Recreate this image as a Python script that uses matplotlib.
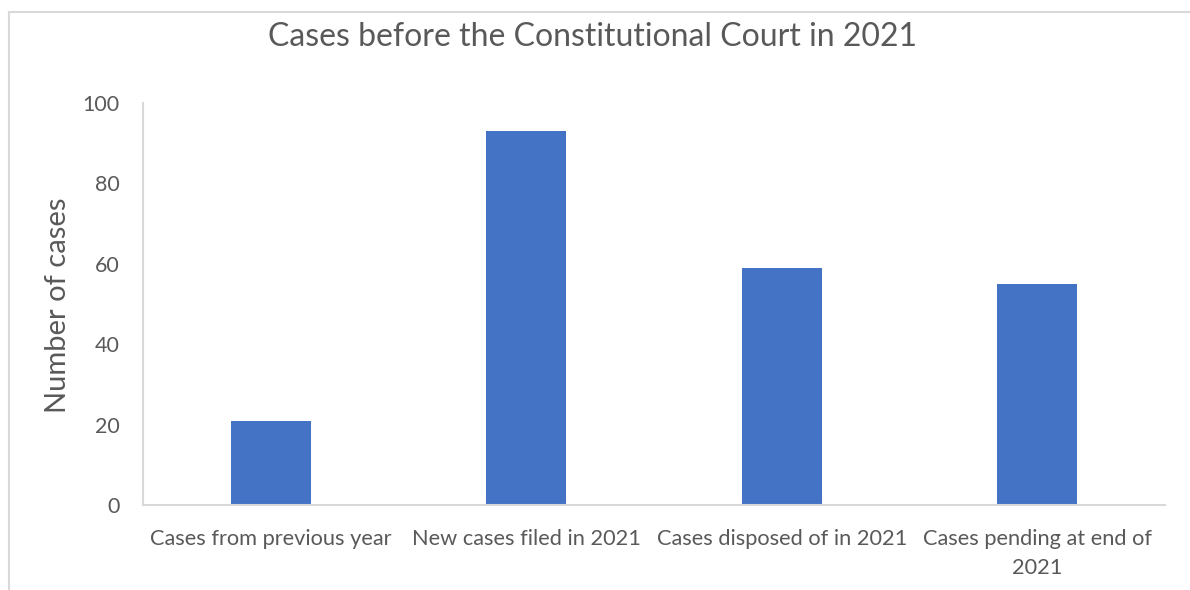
import matplotlib
matplotlib.use("Agg")
import matplotlib.pyplot as plt
from matplotlib.lines import Line2D

categories = [
    "Cases from previous year",
    "New cases filed in 2021",
    "Cases disposed of in 2021",
    "Cases pending at end of\n2021",
]
case_counts = [21, 93, 59, 55]
y_ticks = [0, 20, 40, 60, 80, 100]

TEXT = "#595959"
BAR = "#4472C4"
AXIS = "#D9D9D9"

plt.rcParams["font.family"] = ["Lato", "DejaVu Sans"]

fig = plt.figure(figsize=(11.9, 5.9), dpi=100)
ax = fig.add_axes([143 / 1190, 1 - 505 / 590, 1022 / 1190, 402 / 590])

x = list(range(len(categories)))
ax.bar(x, case_counts, width=0.313, color=BAR, zorder=2)

ax.set_xlim(-0.5, len(categories) - 0.5)
ax.set_ylim(0, 100)
ax.set_yticks(y_ticks)
ax.set_xticks(x)
ax.set_xticklabels(categories, linespacing=1.6)

ax.tick_params(axis="y", length=0, pad=17, labelsize=15.5, labelcolor=TEXT)
ax.tick_params(axis="x", length=0, pad=17, labelsize=15.7, labelcolor=TEXT)

for side in ("top", "right"):
    ax.spines[side].set_visible(False)
for side in ("left", "bottom"):
    ax.spines[side].set_color(AXIS)
    ax.spines[side].set_linewidth(1.5)

fig.text(58 / 1190, 1 - 305 / 590, "Number of cases", rotation=90,
         ha="center", va="center", fontsize=21, color=TEXT)
fig.text(592 / 1190, 1 - 37 / 590, "Cases before the Constitutional Court in 2021",
         ha="center", va="center", fontsize=23, color=TEXT)

# Chart-area frame (left and top edges)
fig.add_artist(Line2D([8.5 / 1190, 8.5 / 1190], [0, 1 - 11.5 / 590],
                      transform=fig.transFigure, color=AXIS, linewidth=1.5))
fig.add_artist(Line2D([8.5 / 1190, 1], [1 - 11.5 / 590, 1 - 11.5 / 590],
                      transform=fig.transFigure, color=AXIS, linewidth=1.5))

fig.savefig("out.png", dpi=100, facecolor="white")
